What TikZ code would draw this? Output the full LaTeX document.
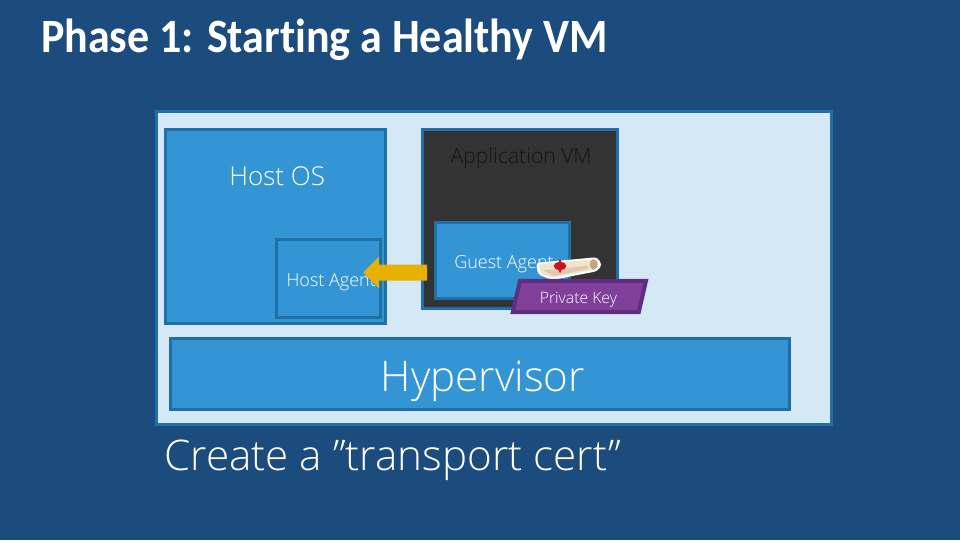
\documentclass[tikz,border=0pt]{standalone}
\usepackage{fontspec}
\setmainfont{Open Sans Light}
\newfontfamily\titlefont[FakeStretch=0.92,Ligatures=NoCommon]{Carlito}
\usepackage{tikz}
\usetikzlibrary{arrows.meta,positioning,calc}
\definecolor{slideblue}{HTML}{1C4C7E}
\definecolor{paleblue}{HTML}{D5E8F5}
\definecolor{boxblue}{HTML}{3395D3}
\definecolor{edgeblue}{HTML}{206FA5}
\definecolor{vmdark}{HTML}{333333}
\definecolor{vmtext}{HTML}{151515}
\definecolor{keypurple}{HTML}{80409A}
\definecolor{keyedge}{HTML}{5E2F80}
\definecolor{gold}{HTML}{E9B004}
\definecolor{parchment}{HTML}{EFE5C8}
\definecolor{parchdark}{HTML}{C9A47F}
\definecolor{sealred}{HTML}{C8141E}

\begin{document}
\begin{tikzpicture}[
	layer/.style={draw=edgeblue,line width=0.075cm,anchor=north west,inner sep=0pt},
	blue box/.style={layer,fill=boxblue},
	lbl/.style={text=white,inner sep=0pt},
	arr/.style={line width=0.4cm,gold,-{Triangle[length=0.4cm,width=0.78cm]},shorten <=0.175cm,shorten >=-0.475cm}
	]
	\useasboundingbox (0,0) rectangle (24,13.5);
	\fill[slideblue] (0,0) rectangle (24,13.5);
	\node[lbl,anchor=west,font=\titlefont\fontsize{34}{34}\selectfont\bfseries] (title) at (1.02,12.5) {Phase 1: Starting a Healthy VM};
	\node[layer,fill=paleblue,minimum width=16.87cm,minimum height=7.82cm] (host) at (3.88,10.75) {};
	\node[blue box,minimum width=5.5cm,minimum height=4.85cm] (os) at (4.1,10.3) {};
	\node[lbl,font=\fontsize{18.5}{18.5}\selectfont] (oslabel) at (6.93,9.1) {Host OS};
	\node[blue box,minimum width=2.6cm,minimum height=1.95cm] (agent) at (6.88,7.55) {};
	\node[lbl,font=\fontsize{12.8}{12.8}\selectfont] (agentlabel) at (8.28,6.45) {Host Agent};
	\node[layer,fill=vmdark,minimum width=4.88cm,minimum height=4.48cm] (vm) at (10.53,10.3) {};
	\node[lbl,text=vmtext,font=\fontsize{15}{15}\selectfont] (vmlabel) at (13.03,9.56) {Application VM};
	\node[blue box,minimum width=3.35cm,minimum height=1.9cm] (guest) at (10.85,7.98) {};
	\node[lbl,font=\fontsize{12.8}{12.8}\selectfont] (guestlabel) at (12.6,6.9) {Guest Agent};
	\draw[arr] ([yshift=-0.305cm]guest.west) -- ([yshift=0.15cm]agent.east);
	% scroll
	\fill[white,rounded corners=0.08cm] (13.4,6.93) -- (14.93,7.07) -- (15.05,6.88) -- (14.93,6.72) -- (13.8,6.5) -- (13.45,6.64) -- cycle;
	\fill[parchment,rounded corners=0.05cm] (13.47,6.9) -- (14.9,7.02) -- (14.98,6.88) -- (14.88,6.76) -- (13.82,6.56) -- (13.52,6.66) -- cycle;
	\fill[parchdark!60] (13.58,6.74) -- (14.7,6.86) -- (14.7,6.78) -- (13.85,6.6) -- cycle;
	\fill[parchdark] (14.84,6.89) ellipse (0.1cm and 0.13cm);
	\fill[sealred] (14.0,6.85) ellipse (0.16cm and 0.1cm);
	\fill[sealred] (14,6.85) ellipse (0.04cm and 0.17cm);
	\filldraw[draw=keyedge,fill=keypurple,line width=0.1cm] (12.82,5.7) -- (13.0,6.48) -- (16.15,6.48) -- (15.97,5.7) -- cycle;
	\node[lbl,font=\fontsize{11.2}{11.2}\selectfont] (keylabel) at (14.46,6.0) {Private Key};
	\node[blue box,minimum width=15.47cm,minimum height=1.77cm] (hyper) at (4.23,5.07) {};
	\node[lbl,font=\fontsize{30}{30}\selectfont] (hyperlabel) at (12.07,3.98) {Hypervisor};
	\node[lbl,anchor=west,font=\fontsize{30}{30}\selectfont] (note) at (4.1,2.0) {Create a ”transport cert”};
\end{tikzpicture}
\end{document}
